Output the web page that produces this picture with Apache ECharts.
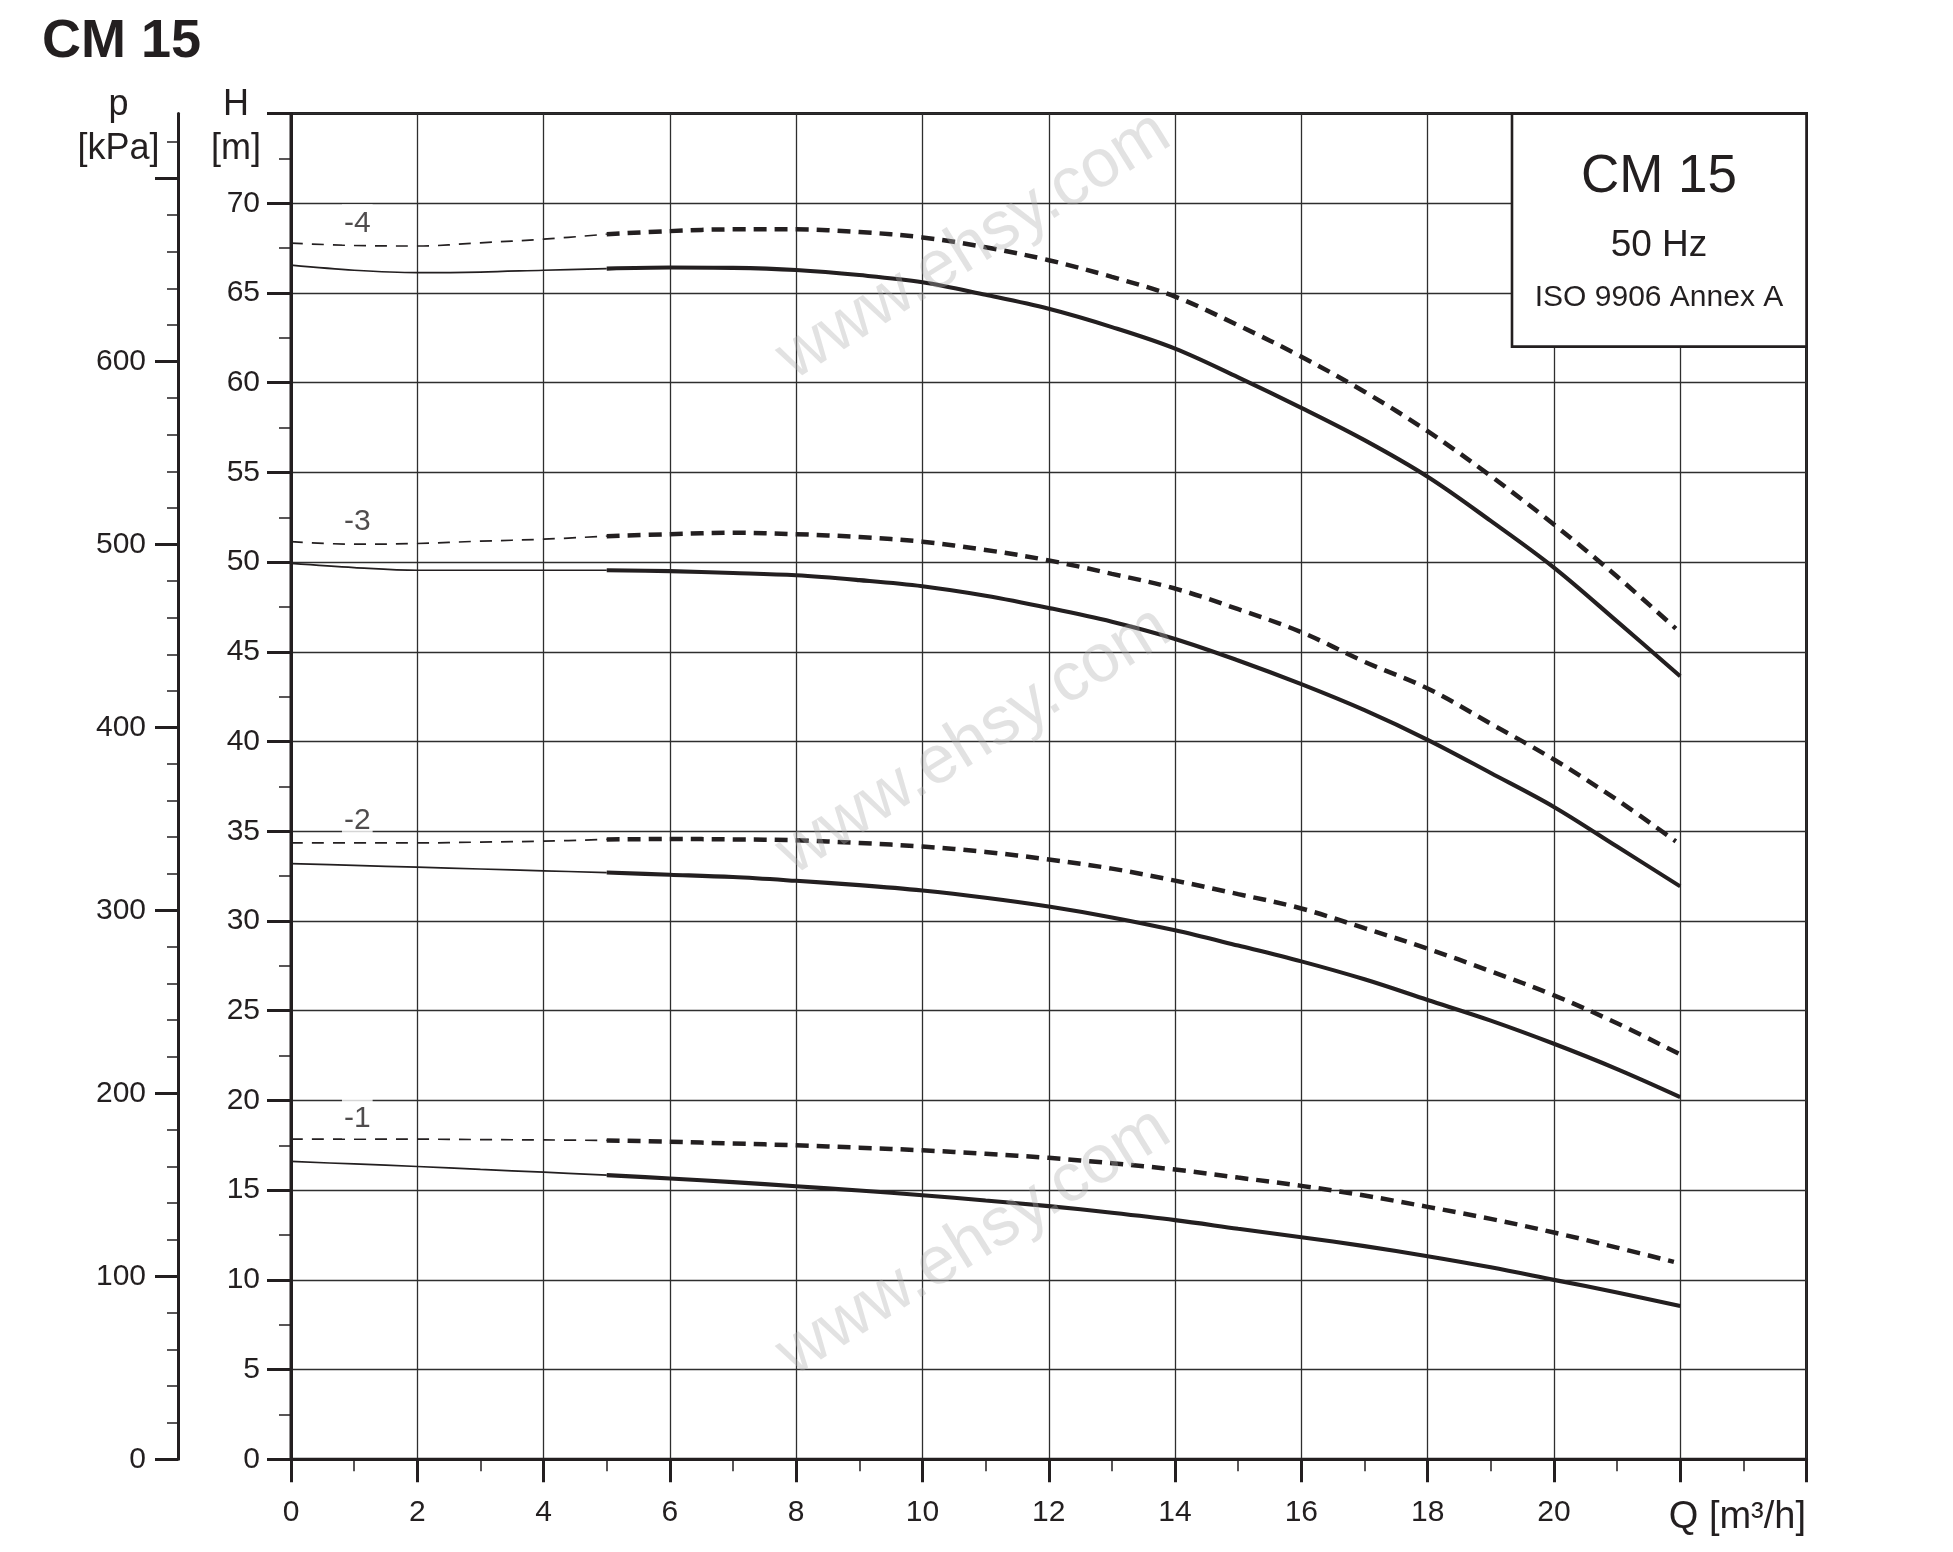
<!DOCTYPE html>
<html>
<head>
<meta charset="utf-8">
<script src="https://cdn.jsdelivr.net/npm/echarts@6/dist/echarts.min.js"></script>
<style>html,body{margin:0;padding:0;background:#fff}#c{width:1953px;height:1552px}</style>
</head>
<body>
<div id="c"></div>
<script>
// ---- axes ----
const qLabels = [0, 2, 4, 6, 8, 10, 12, 14, 16, 18, 20];
const hLabels = [0, 5, 10, 15, 20, 25, 30, 35, 40, 45, 50, 55, 60, 65, 70];
const pLabels = [0, 100, 200, 300, 400, 500, 600];
const pMajorTicks = [0, 100, 200, 300, 400, 500, 600, 700];
const pMinorTicks = [20,40,60,80,120,140,160,180,220,240,260,280,320,340,360,380,420,440,460,480,520,540,560,580,620,640,660,680,720];
const H_MAX = 75;
const P_MAX = 75 * 9.80665;

// ---- curve labels ----
const curveNames = ['-1', '-2', '-3', '-4'];
const curveLabelPos = [[1.05, 19.0], [1.05, 35.6], [1.05, 52.23], [1.05, 68.84]];

// ---- stage -1 ----
const s1Thin = [[0,16.6],[1,16.46],[2,16.32],[3,16.16],[4,16.0],[5,15.84]];
const s1Thick = [[5,15.84],[6,15.65],[7,15.45],[8,15.22],[9,14.98],[10,14.72],[11,14.42],[12,14.11],[13,13.74],[14,13.33],[15,12.85],[16,12.38],[17,11.88],[18,11.32],[19,10.7],[20,10.0],[21,9.3],[22,8.55]];
const d1Thin = [[0,17.84],[1,17.84],[2,17.84],[3,17.82],[4,17.8],[5,17.77]];
const d1Thick = [[5,17.77],[6,17.7],[7,17.6],[8,17.5],[9,17.37],[10,17.22],[11,17.03],[12,16.8],[13,16.5],[14,16.15],[15,15.7],[16,15.24],[17,14.7],[18,14.07],[19,13.4],[20,12.64],[21,11.8],[21.9,11.0]];

// ---- stage -2 ----
const s2Thin = [[0,33.2],[1,33.1],[2,33.0],[3,32.9],[4,32.8],[5,32.7]];
const s2Thick = [[5,32.7],[6,32.58],[7,32.45],[8,32.24],[9,32.0],[10,31.7],[11,31.3],[12,30.81],[13,30.2],[14,29.48],[15,28.63],[16,27.75],[17,26.75],[18,25.6],[19,24.45],[20,23.16],[21,21.75],[22,20.19]];
const d2Thin = [[0,34.35],[1,34.35],[2,34.35],[3,34.4],[4,34.45],[5,34.55]];
const d2Thick = [[5,34.55],[6,34.57],[7,34.55],[8,34.5],[9,34.35],[10,34.15],[11,33.85],[12,33.43],[13,32.92],[14,32.25],[15,31.5],[16,30.7],[17,29.6],[18,28.46],[19,27.2],[20,25.86],[21,24.3],[22,22.57]];

// ---- stage -3 ----
const s3Thin = [[0,49.93],[1,49.7],[2,49.55],[3,49.55],[4,49.55],[5,49.55]];
const s3Thick = [[5,49.55],[6,49.5],[7,49.4],[8,49.27],[9,49.0],[10,48.66],[11,48.13],[12,47.45],[13,46.68],[14,45.72],[15,44.52],[16,43.2],[17,41.75],[18,40.1],[19,38.25],[20,36.36],[21,34.15],[22,31.93]];
const d3Thin = [[0,51.14],[1,51.0],[2,51.04],[3,51.17],[4,51.28],[5,51.45]];
const d3Thick = [[5,51.45],[6,51.56],[7,51.64],[8,51.56],[9,51.4],[10,51.14],[11,50.68],[12,50.1],[13,49.35],[14,48.53],[15,47.38],[16,46.1],[17,44.45],[18,42.96],[19,41.0],[20,39.0],[21,36.75],[21.93,34.44]];

// ---- stage -4 ----
const s4Thin = [[0,66.55],[1,66.27],[2,66.14],[3,66.17],[4,66.27],[5,66.36]];
const s4Thick = [[5,66.36],[6,66.42],[7,66.4],[8,66.28],[9,66.0],[10,65.6],[11,64.9],[12,64.12],[13,63.1],[14,61.9],[15,60.3],[16,58.6],[17,56.8],[18,54.76],[19,52.3],[20,49.7],[21,46.7],[22,43.64]];
const d4Thin = [[0,67.78],[1,67.65],[2,67.62],[3,67.8],[4,68.0],[5,68.28]];
const d4Thick = [[5,68.28],[6,68.45],[7,68.55],[8,68.55],[9,68.4],[10,68.1],[11,67.55],[12,66.83],[13,65.9],[14,64.8],[15,63.2],[16,61.45],[17,59.5],[18,57.3],[19,54.8],[20,52.1],[21,49.2],[21.93,46.3]];

const INK = '#231f20';
const FONT = '"Liberation Sans", Arial, Helvetica, sans-serif';

function curve(data, thick, dashed) {
  return {
    type: 'line', data: data, xAxisIndex: 0, yAxisIndex: 0,
    showSymbol: false, symbol: 'none', smooth: 0.35, silent: true, z: 5,
    lineStyle: {
      color: INK,
      width: thick ? (dashed ? 4.5 : 4.1) : 1.7,
      type: dashed ? (thick ? [13, 8] : [12, 9]) : 'solid',
      cap: 'butt'
    }
  };
}

const series = [];
[[s1Thin, s1Thick, d1Thin, d1Thick], [s2Thin, s2Thick, d2Thin, d2Thick],
 [s3Thin, s3Thick, d3Thin, d3Thick], [s4Thin, s4Thick, d4Thin, d4Thick]].forEach(function (g) {
  series.push(curve(g[0], false, false));
  series.push(curve(g[1], true, false));
  series.push(curve(g[2], false, true));
  series.push(curve(g[3], true, true));
});
series.push({
  type: 'scatter', xAxisIndex: 0, yAxisIndex: 0, symbol: 'rect', symbolSize: 1, silent: true, z: 6,
  itemStyle: { color: '#fff' },
  data: curveLabelPos.map(function (p, i) { return [p[0], p[1], curveNames[i]]; }),
  label: {
    show: true, position: 'inside', formatter: function (p) { return p.value[2]; },
    color: INK, fontSize: 30, fontFamily: FONT, backgroundColor: '#fff', padding: [9, 2, 1, 2],
    textBorderWidth: 0
  }
});

const wm = [246, 741, 1242].map(function (y) {
  return {
    type: 'text', x: 974, y: y, rotation: 0.558, z: 100, silent: true,
    style: { text: 'www.ehsy.com', x: 0, y: 0, align: 'center', verticalAlign: 'middle',
      font: '68px ' + FONT, fill: 'rgba(175,175,175,0.36)' }
  };
});

const chart = echarts.init(document.getElementById('c'), null, { renderer: 'canvas' });
chart.setOption({
  animation: false,
  backgroundColor: '#fff',
  grid: { left: 291, right: 146.5, top: 113.6, bottom: 92.7, show: true, borderColor: INK, borderWidth: 3, backgroundColor: 'transparent' },
  xAxis: {
    type: 'value', min: 0, max: 24, interval: 2,
    axisLine: { show: true, onZero: false, lineStyle: { color: INK, width: 3 } },
    axisTick: { show: true, length: 23, lineStyle: { color: INK, width: 3 } },
    minorTick: { show: true, splitNumber: 2, length: 12, lineStyle: { color: INK, width: 1.5 } },
    splitLine: { show: true, lineStyle: { color: '#2e2e2e', width: 1.3 } },
    axisLabel: {
      margin: 38, fontSize: 30, color: INK, fontFamily: FONT,
      formatter: function (v) { return qLabels.indexOf(v) >= 0 ? String(v) : ''; }
    }
  },
  yAxis: [
    {
      type: 'value', position: 'left', min: 0, max: H_MAX, interval: 5,
      axisLine: { show: true, onZero: false, lineStyle: { color: INK, width: 3 } },
      axisTick: { show: true, length: 24, lineStyle: { color: INK, width: 3 } },
      minorTick: { show: true, splitNumber: 2, length: 12, lineStyle: { color: INK, width: 1.5 } },
      splitLine: { show: true, lineStyle: { color: '#2e2e2e', width: 1.3 } },
      axisLabel: {
        margin: 31, fontSize: 30, color: INK, fontFamily: FONT,
        formatter: function (v) { return hLabels.indexOf(v) >= 0 ? String(v) : ''; }
      }
    },
    {
      type: 'value', position: 'left', offset: 113, min: 0, max: P_MAX,
      axisLine: { show: true, onZero: false, lineStyle: { color: INK, width: 3 } },
      axisTick: { show: true, length: 23, customValues: pMajorTicks, lineStyle: { color: INK, width: 3 } },
      splitLine: { show: false },
      axisLabel: {
        margin: 32, fontSize: 30, color: INK, fontFamily: FONT, customValues: pLabels,
        formatter: function (v) { return pLabels.indexOf(v) >= 0 ? String(v) : ''; }
      }
    },
    {
      type: 'value', position: 'left', offset: 113, min: 0, max: P_MAX,
      axisLine: { show: false, onZero: false },
      axisTick: { show: true, length: 11, customValues: pMinorTicks, lineStyle: { color: INK, width: 1.5 } },
      splitLine: { show: false },
      axisLabel: { show: false }
    }
  ],
  series: series,
  graphic: [
    { type: 'text', x: 42, y: 42, z: 50, style: { text: 'CM 15', align: 'left', verticalAlign: 'middle', font: 'bold 54px ' + FONT, fill: INK } },
    { type: 'text', x: 118.6, y: 105, z: 50, style: { text: 'p', align: 'center', verticalAlign: 'middle', font: '36px ' + FONT, fill: INK } },
    { type: 'text', x: 118.6, y: 149, z: 50, style: { text: '[kPa]', align: 'center', verticalAlign: 'middle', font: '36px ' + FONT, fill: INK } },
    { type: 'text', x: 236, y: 105, z: 50, style: { text: 'H', align: 'center', verticalAlign: 'middle', font: '36px ' + FONT, fill: INK } },
    { type: 'text', x: 236, y: 149, z: 50, style: { text: '[m]', align: 'center', verticalAlign: 'middle', font: '36px ' + FONT, fill: INK } },
    { type: 'text', x: 1806, y: 1518, z: 50, style: { text: 'Q [m³/h]', align: 'right', verticalAlign: 'middle', font: '38px ' + FONT, fill: INK } },
    { type: 'rect', z: 40, shape: { x: 1512, y: 113.6, width: 294.5, height: 233 }, style: { fill: '#fff', stroke: INK, lineWidth: 2.6 } },
    { type: 'text', x: 1659, y: 177, z: 50, style: { text: 'CM 15', align: 'center', verticalAlign: 'middle', font: '53px ' + FONT, fill: INK } },
    { type: 'text', x: 1659, y: 246, z: 50, style: { text: '50 Hz', align: 'center', verticalAlign: 'middle', font: '37px ' + FONT, fill: INK } },
    { type: 'text', x: 1659, y: 298, z: 50, style: { text: 'ISO 9906 Annex A', align: 'center', verticalAlign: 'middle', font: '30px ' + FONT, fill: INK } }
  ].concat(wm)
});
</script>
</body>
</html>
